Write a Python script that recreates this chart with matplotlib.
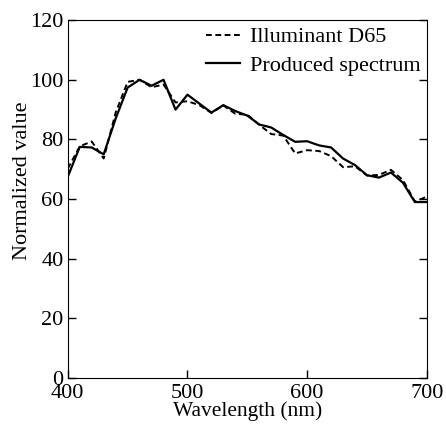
import numpy as np
import matplotlib
matplotlib.use('Agg')
import matplotlib.pyplot as plt

plt.rcParams['font.family'] = ['Liberation Serif', 'DejaVu Serif']
plt.rcParams['mathtext.fontset'] = 'stix'

# wavelength grid (nm)
wavelength = np.arange(400, 701, 10)

# normalized values
d65 = [70.2, 77.7, 79.3, 73.6, 89.0, 99.3, 100.0, 97.5, 98.4, 92.4,
       92.8, 91.5, 88.9, 91.4, 88.6, 88.3, 84.9, 81.8, 81.3, 75.3,
       76.4, 76.1, 74.4, 70.7, 71.0, 67.9, 68.1, 69.8, 66.4, 59.2, 60.8]
produced = [67.5, 77.5, 77.3, 75.0, 87.0, 97.4, 100.0, 98.0, 100.0, 90.0,
            95.0, 92.0, 89.0, 91.5, 89.5, 88.0, 85.0, 84.0, 81.5, 79.2,
            79.4, 78.0, 77.3, 73.6, 71.4, 68.0, 67.2, 68.9, 65.5, 59.0, 59.0]

fig = plt.figure(figsize=(4.46, 4.25), dpi=100)
ax = fig.add_axes([0.152, 0.1106, 0.805, 0.842])

ax.plot(wavelength, d65, 'k--', lw=1.4, dashes=(3, 1.8), label='Illuminant D65')
ax.plot(wavelength, produced, 'k-', lw=1.6, label='Produced spectrum')

ax.set_xlim(400, 700)
ax.set_ylim(0, 120)
ax.set_xticks([400, 500, 600, 700])
ax.set_yticks(np.arange(0, 121, 20))
ax.tick_params(direction='in', length=6, width=1, labelsize=16,
               right=True, top=False)
ax.tick_params(axis='x', pad=4)
ax.tick_params(axis='y', pad=3)
ax.set_xlabel('Wavelength (nm)', fontsize=15.5, labelpad=-1)
ax.set_ylabel('Normalized value', fontsize=16, labelpad=0)
ax.yaxis.set_label_coords(-0.1, 0.55)

ax.legend(loc='upper right', frameon=False, fontsize=16, handlelength=1.5,
          handletextpad=0.45, borderaxespad=0.1, labelspacing=0.35,
          borderpad=0.2)

fig.savefig('out.png', dpi=100)
